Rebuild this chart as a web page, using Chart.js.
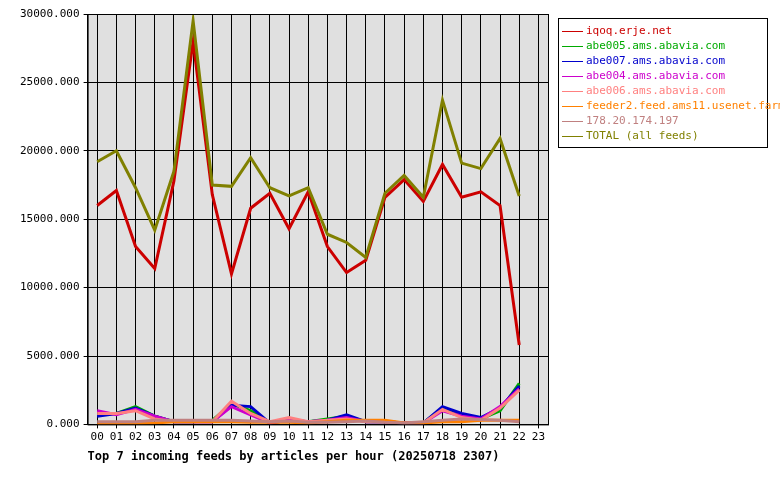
<!DOCTYPE html>
<html>
<head>
<meta charset="utf-8">
<script src="https://cdn.jsdelivr.net/npm/chart.js@4"></script>
<style>
body { margin: 0; background: #fff; }
#wrap { position: relative; width: 780px; height: 480px; }
#legend { position: absolute; left: 558px; top: 18px; width: 210px; height: 130px; border: 1px solid #000; box-sizing: border-box; padding: 4px 0 0 3px; font: 11px 'DejaVu Sans Mono', monospace; background: #fff; }
#legend div { height: 15px; line-height: 15px; white-space: nowrap; }
#legend span.ln { display: inline-block; width: 21px; height: 1px; vertical-align: middle; margin-right: 3px; position: relative; }
</style>
</head>
<body>
<div id="wrap">
<canvas id="feeds_chart" width="780" height="480"></canvas>
<div id="legend"></div>
</div>
<script>
const hours = ['00','01','02','03','04','05','06','07','08','09','10','11','12','13','14','15','16','17','18','19','20','21','22','23']
const feed_names = ['iqoq.erje.net', 'abe005.ams.abavia.com', 'abe007.ams.abavia.com', 'abe004.ams.abavia.com', 'abe006.ams.abavia.com', 'feeder2.feed.ams11.usenet.farm', '178.20.174.197', 'TOTAL (all feeds)']
const feed_colors = ['#cc0000', '#00aa00', '#0000cc', '#cc00cc', '#ff8080', '#ff8000', '#c08080', '#808000']

const iqoq = [16000, 17100, 13000, 11400, 17800, 28000, 16800, 11000, 15800, 16900, 14300, 17000, 13000, 11100, 12000, 16600, 17900, 16300, 19000, 16600, 17000, 16000, 5800, null]
const abe005 = [700, 800, 1300, 600, 200, 200, 300, 1500, 1000, 100, 300, 200, 400, 600, 200, 200, 100, 100, 1200, 700, 400, 1000, 3000, null]
const abe007 = [600, 800, 1200, 600, 200, 200, 200, 1400, 1300, 100, 300, 200, 300, 700, 200, 200, 100, 100, 1300, 800, 500, 1200, 2800, null]
const abe004 = [1000, 700, 1100, 600, 200, 200, 200, 1300, 700, 100, 300, 200, 300, 500, 200, 200, 100, 100, 1000, 600, 400, 1300, 2600, null]
const abe006 = [800, 800, 1000, 400, 200, 200, 200, 1700, 800, 200, 500, 200, 300, 400, 200, 200, 100, 100, 1100, 500, 300, 1200, 2500, null]
const feeder2 = [0, 0, 50, 100, 200, 200, 200, 200, 150, 150, 150, 100, 200, 300, 300, 300, 100, 100, 200, 200, 300, 300, 300, null]
const ip178 = [200, 200, 200, 300, 300, 300, 300, 300, 250, 200, 250, 150, 150, 200, 250, 150, 100, 200, 300, 400, 350, 300, 200, null]
const total = [19200, 20000, 17300, 14200, 18500, 29500, 17500, 17400, 19500, 17300, 16700, 17300, 13900, 13300, 12200, 16900, 18200, 16600, 23700, 19100, 18700, 20900, 16700, null]

const series = [iqoq, abe005, abe007, abe004, abe006, feeder2, ip178, total]

// draw order: small feeds first, iqoq and total on top
const draw_order = [0, 7, 1, 2, 3, 4, 5, 6]

const legend = document.getElementById('legend')
feed_names.forEach((name, i) => {
	const row = document.createElement('div')
	row.style.color = feed_colors[i]
	row.innerHTML = '<span class="ln" style="background:' + feed_colors[i] + '"></span>' + name
	legend.appendChild(row)
})

const plot_bg = {
	id: 'plot_bg',
	beforeDraw(chart) {
		const a = chart.chartArea
		const ctx = chart.ctx
		ctx.save()
		ctx.fillStyle = '#e0e0e0'
		ctx.fillRect(a.left, a.top, a.right - a.left, a.bottom - a.top)
		ctx.restore()
	},
	afterDraw(chart) {
		const a = chart.ctx
		const c = chart.chartArea
		a.save()
		a.strokeStyle = '#000'
		a.lineWidth = 1
		a.strokeRect(c.left + 0.5, c.top + 0.5, c.right - c.left, c.bottom - c.top)
		a.restore()
	},
}

Chart.defaults.font.family = "'DejaVu Sans Mono', monospace"
Chart.defaults.font.size = 11
Chart.defaults.color = '#000'

// eslint-disable-next-line
const feeds_chart = new Chart(document.getElementById('feeds_chart'), {
	type: 'line',
	data: {
		labels: hours,
		datasets: series.map((data, i) => ({
			label: feed_names[i],
			data: data,
			borderColor: feed_colors[i],
			backgroundColor: feed_colors[i],
			borderWidth: 3,
			pointRadius: 0,
			tension: 0,
			order: draw_order.length - draw_order.indexOf(i),
		})),
	},
	options: {
		responsive: false,
		animation: false,
		layout: { padding: { top: 14, right: 232, left: 16, bottom: 8 } },
		plugins: {
			legend: { display: false },
			tooltip: { enabled: false },
			title: {
				display: true,
				position: 'bottom',
				align: 'start',
				fullSize: false,
				text: 'Top 7 incoming feeds by articles per hour (20250718 2307)',
				font: { weight: 'bold', size: 12 },
				padding: { top: 4, bottom: 8 },
			},
		},
		scales: {
			x: {
				offset: true,
				grid: { color: '#000', offset: false, drawTicks: true, tickLength: 4 },
				border: { color: '#000' },
				ticks: { maxRotation: 0, autoSkip: false, padding: 2 },
			},
			y: {
				min: 0,
				max: 30000,
				ticks: { stepSize: 5000, callback: v => v.toFixed(3), padding: 4 },
				grid: { color: '#000', tickLength: 4 },
				border: { color: '#000' },
			},
		},
	},
	plugins: [plot_bg],
})
</script>
</body>
</html>
